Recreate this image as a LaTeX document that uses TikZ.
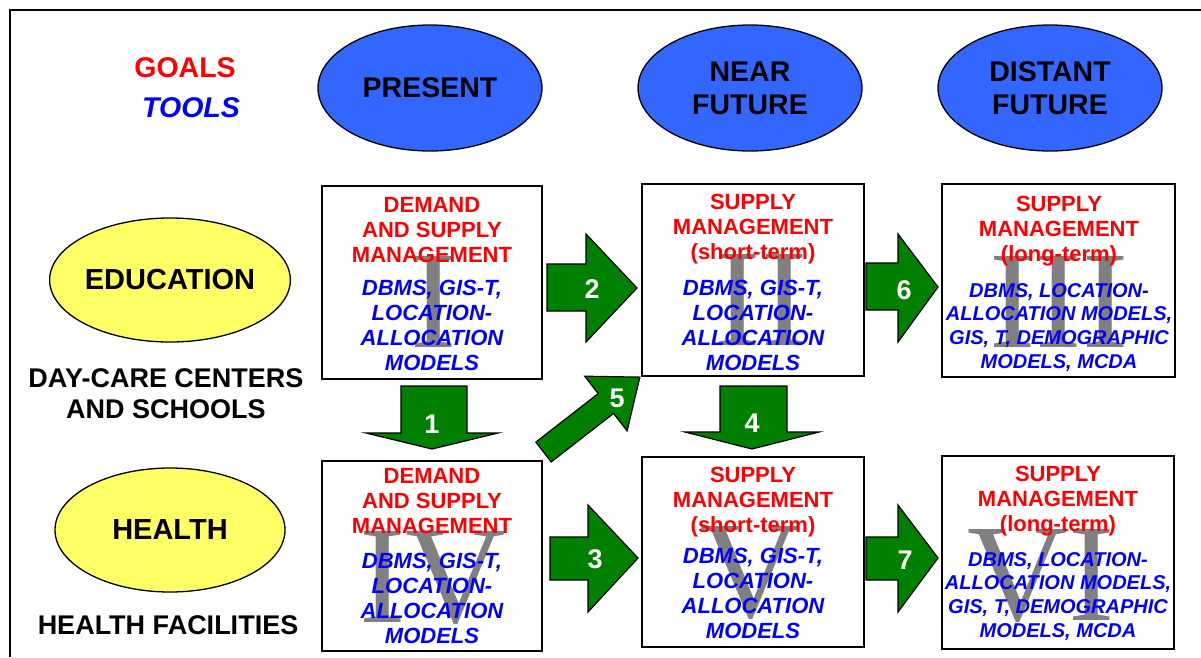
\documentclass[tikz,border=0pt]{standalone}
\usepackage{fontspec}
\setmainfont{Liberation Sans}
\newfontfamily\numfont{Liberation Serif}
\usetikzlibrary{shapes.geometric}
\definecolor{cred}{HTML}{FF0000}
\definecolor{cblue}{HTML}{0000FF}
\definecolor{cellblue}{HTML}{3366FF}
\definecolor{cyellow}{HTML}{FFFF66}
\definecolor{cgreen}{HTML}{008000}
\definecolor{cgray}{HTML}{808080}
\newcommand{\stk}[1]{\begin{tabular}[t]{@{}c@{}}#1\end{tabular}}
\begin{document}
\begin{tikzpicture}[x=1pt,y=-1pt,
  timeell/.style={ellipse, draw=black, line width=1.3pt, fill=cellblue,
    minimum width=224pt, minimum height=126pt, inner sep=0pt, align=center,
    font=\fontsize{28.5}{33}\selectfont\bfseries},
  secell/.style={ellipse, draw=black, line width=1.3pt, fill=cyellow,
    minimum width=230pt, minimum height=124pt, inner sep=0pt,
    font=\fontsize{29}{33}\selectfont\bfseries},
  seclabel/.style={anchor=base, inner sep=0pt, font=\fontsize{27}{31}\selectfont\bfseries},
  stagebox/.style={draw=black, line width=1.4pt, fill=white, inner sep=0pt},
  goaltxt/.style={anchor=base, inner sep=0pt, text=cred, font=\fontsize{22}{25}\selectfont\bfseries},
  tooltxt/.style={anchor=base, inner sep=0pt, text=cblue, font=\fontsize{22}{25.3}\selectfont\bfseries\itshape},
  tooltxtsm/.style={anchor=base, inner sep=0pt, text=cblue, font=\fontsize{20}{23.7}\selectfont\bfseries\itshape},
  numeral/.style={anchor=base, inner sep=0pt, text=cgray, font=\fontsize{139}{139}\selectfont\numfont},
  garrow/.style={draw=black, line width=1.2pt, fill=cgreen, line join=miter},
  arrlabel/.style={inner sep=0pt, text=white, font=\fontsize{27}{27}\selectfont\bfseries}
]
\useasboundingbox (0,0) rectangle (1201,657);
\fill[white] (0,0) rectangle (1201,657);

% frame
\draw[line width=1.6pt] (10,657) -- (10,10) -- (1201,10);

% legend
\node[anchor=base, inner sep=0pt, text=cred, font=\fontsize{28.5}{30}\selectfont\bfseries] (goals) at (185,77) {GOALS};
\node[anchor=base, inner sep=0pt, text=cblue, font=\fontsize{28.5}{30}\selectfont\bfseries\itshape] (tools) at (191,117) {TOOLS};

% time horizons
\node[timeell] (present) at (430,88) {PRESENT};
\node[timeell] (near) at (750,88) {NEAR\\FUTURE};
\node[timeell] (distant) at (1050,88) {DISTANT\\FUTURE};

% sectors
\node[secell] (edu) at (170,280) {EDUCATION};
\node[secell] (health) at (170,530) {HEALTH};
\node[seclabel] (educap) at (166,387) {\stk{DAY-CARE CENTERS\\AND SCHOOLS}};
\node[seclabel] (healthcap) at (168,634) {HEALTH FACILITIES};

% stage boxes
\node[stagebox, minimum width=220pt, minimum height=193pt] (b1) at (432,282.5) {};
\node[stagebox, minimum width=222pt, minimum height=192pt] (b2) at (753,280) {};
\node[stagebox, minimum width=233pt, minimum height=193pt] (b3) at (1058.5,280.5) {};
\node[stagebox, minimum width=220pt, minimum height=190pt] (b4) at (432,556) {};
\node[stagebox, minimum width=222pt, minimum height=190pt] (b5) at (753,552) {};
\node[stagebox, minimum width=232pt, minimum height=193pt] (b6) at (1058,552.5) {};

% roman numerals
\node[numeral] (n1) at (434,347) {I};
\node[numeral] (n2) at (761,345) {II};
\node[numeral] (n3) at (1059,347) {III};
\node[numeral] (n4) at (433,622) {IV};
\node[numeral] (n5) at (751,617) {V};
\node[numeral] (n6) at (1041,620) {VI};

% goals and tools texts
\node[goaltxt] (g1) at (432,212) {\stk{DEMAND\\AND SUPPLY\\MANAGEMENT}};
\node[tooltxt] (t1) at (432,295) {\stk{DBMS, GIS-T,\\LOCATION-\\ALLOCATION\\MODELS}};
\node[goaltxt] (g2) at (753,209) {\stk{SUPPLY\\MANAGEMENT\\(short-term)}};
\node[tooltxt] (t2) at (753,295) {\stk{DBMS, GIS-T,\\LOCATION-\\ALLOCATION\\MODELS}};
\node[goaltxt] (g3) at (1059,211) {\stk{SUPPLY\\MANAGEMENT\\(long-term)}};
\node[tooltxtsm] (t3) at (1059,297) {\stk{DBMS, LOCATION-\\ALLOCATION MODELS,\\GIS, T, DEMOGRAPHIC\\MODELS, MCDA}};
\node[goaltxt] (g4) at (432,483) {\stk{DEMAND\\AND SUPPLY\\MANAGEMENT}};
\node[tooltxt] (t4) at (432,568) {\stk{DBMS, GIS-T,\\LOCATION-\\ALLOCATION\\MODELS}};
\node[goaltxt] (g5) at (753,482) {\stk{SUPPLY\\MANAGEMENT\\(short-term)}};
\node[tooltxt] (t5) at (753,563) {\stk{DBMS, GIS-T,\\LOCATION-\\ALLOCATION\\MODELS}};
\node[goaltxt] (g6) at (1058,481) {\stk{SUPPLY\\MANAGEMENT\\(long-term)}};
\node[tooltxtsm] (t6) at (1058,566) {\stk{DBMS, LOCATION-\\ALLOCATION MODELS,\\GIS, T, DEMOGRAPHIC\\MODELS, MCDA}};

% block arrows
\draw[garrow] (547,264) -- (586,264) -- (586,234) -- (637,288) -- (586,342) -- (586,311) -- (547,311) -- cycle;
\node[arrlabel] (l2) at (592,289) {2};
\draw[garrow] (866,263) -- (898,263) -- (898,234) -- (938,287) -- (898,342) -- (898,310) -- (866,310) -- cycle;
\node[arrlabel] (l6) at (904,290) {6};
\draw[garrow] (550,537) -- (588,537) -- (588,505) -- (638,558) -- (588,612) -- (588,580) -- (550,580) -- cycle;
\node[arrlabel] (l3) at (595,559) {3};
\draw[garrow] (866,537) -- (898,537) -- (898,505) -- (938,558) -- (898,612) -- (898,580) -- (866,580) -- cycle;
\node[arrlabel] (l7) at (905,560) {7};
\draw[garrow] (401,386) -- (467,386) -- (467,433) -- (498,433) -- (432,449) -- (366,433) -- (401,433) -- cycle;
\node[arrlabel] (l1) at (432,424) {1};
\draw[garrow] (720,386) -- (787,386) -- (787,432) -- (819,432) -- (752,449) -- (685,432) -- (720,432) -- cycle;
\node[arrlabel] (l4) at (752,423) {4};
\draw[garrow] (535.8,442.1) -- (598.2,393.6) -- (584.7,376.2) -- (639.9,377.1) -- (627.1,430.8) -- (613.6,413.4) -- (551.2,461.9) -- cycle;
\node[arrlabel] (l5) at (617,398) {5};
\end{tikzpicture}
\end{document}
